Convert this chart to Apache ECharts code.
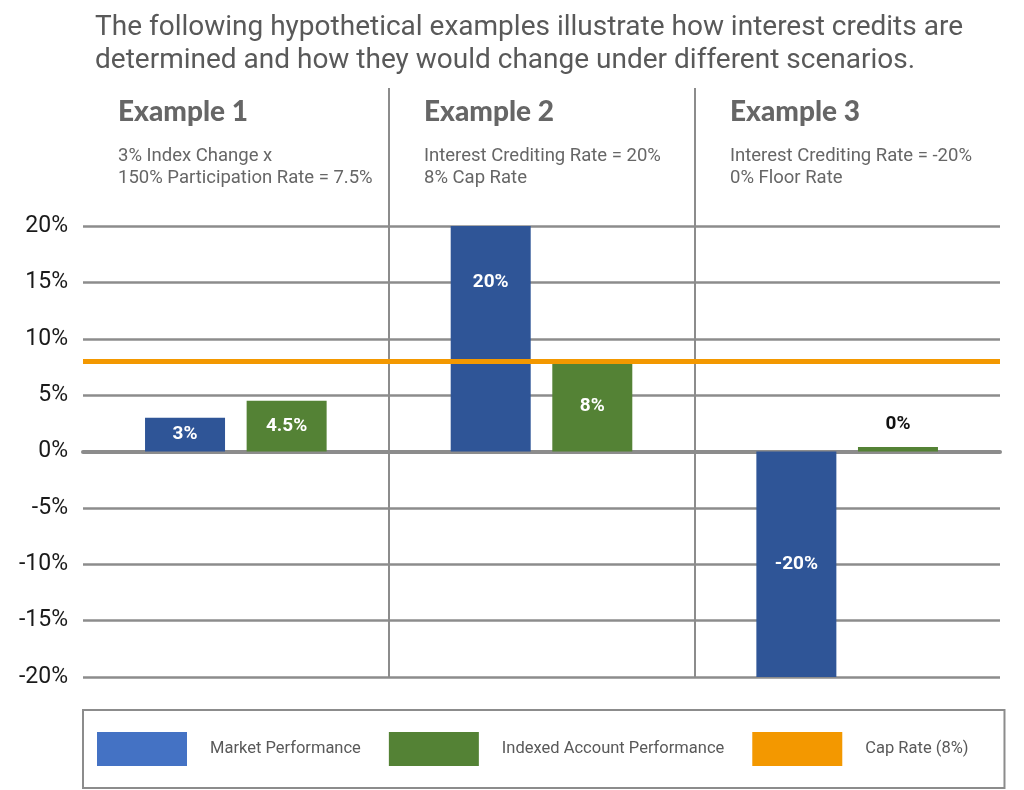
<!DOCTYPE html>
<html>
<head>
<meta charset="utf-8">
<script src="https://cdn.jsdelivr.net/npm/echarts@6/dist/echarts.min.js"></script>
<style>html,body{margin:0;padding:0;background:#fff;}#c{width:1024px;height:790px;}</style>
</head>
<body>
<div id="c"></div>
<script>
var headline = 'The following hypothetical examples illustrate how interest credits are\ndetermined and how they would change under different scenarios.';
var categories = ['Example 1', 'Example 2', 'Example 3'];
var exampleNotes = [
  '3% Index Change x\n150% Participation Rate = 7.5%',
  'Interest Crediting Rate = 20%\n8% Cap Rate',
  'Interest Crediting Rate = -20%\n0% Floor Rate'
];
var marketValues = [3, 20, -20];
var marketLabels = ['3%', '20%', '-20%'];
var indexedValues = [4.5, 8, 0.4];
var indexedLabels = ['4.5%', '8%', '0%'];
var capRate = 8;
var seriesNames = ['Market Performance', 'Indexed Account Performance', 'Cap Rate (8%)'];

var C_BLUE_BAR = '#2F5597', C_BLUE_LEG = '#4472C4', C_GREEN = '#548235', C_ORANGE = '#F39800', C_GRID = '#8c8c8c';

var chart = echarts.init(document.getElementById('c'), null, {renderer: 'canvas'});

var titles = [{
  text: headline, left: 95, top: 11, padding: 0,
  textStyle: {fontFamily: 'Roboto', fontSize: 28, fontWeight: 'normal', color: '#595959', lineHeight: 33}
}];
categories.forEach(function (c, i) {
  titles.push({
    text: c, subtext: exampleNotes[i], left: 118 + i * 306, top: 98, itemGap: 19, padding: 0,
    textStyle: {fontFamily: 'Lato', fontSize: 28, fontWeight: 900, color: '#666666'},
    subtextStyle: {fontFamily: 'Roboto', fontSize: 18.5, color: '#666666', lineHeight: 22}
  });
});

function barData(vals, labels, special) {
  return vals.map(function (v, i) {
    var d = {value: v, labelText: labels[i]};
    if (special && special[i]) d.label = special[i];
    return d;
  });
}

var option = {
  animation: false,
  backgroundColor: '#fff',
  title: titles,
  legend: {
    left: 83, top: 710,
    icon: 'rect', itemWidth: 90, itemHeight: 34, itemGap: 28,
    padding: [22, 36, 22, 14],
    borderColor: C_GRID, borderWidth: 2,
    data: [
      {name: seriesNames[0], itemStyle: {color: C_BLUE_LEG}},
      {name: seriesNames[1], itemStyle: {color: C_GREEN}},
      {name: seriesNames[2], itemStyle: {color: C_ORANGE}}
    ],
    textStyle: {fontFamily: 'Roboto', fontSize: 16.5, color: '#595959', padding: [0, 0, 0, 18]},
    selectedMode: false
  },
  grid: [
    {left: 83, right: 24, top: 226, bottom: 113},
    {left: 83, right: 24, top: 88, bottom: 113}
  ],
  xAxis: [{
    type: 'category', gridIndex: 0, data: categories,
    axisLabel: {show: false}, axisTick: {show: false},
    axisLine: {show: true, onZero: true, lineStyle: {color: C_GRID, width: 4}},
    splitLine: {show: false}
  }, {
    type: 'category', gridIndex: 1, data: categories,
    axisLabel: {show: false}, axisTick: {show: false}, axisLine: {show: false},
    splitLine: {show: true, showMinLine: false, showMaxLine: false, lineStyle: {color: C_GRID, width: 2}}
  }],
  yAxis: [{
    type: 'value', gridIndex: 0, min: -20, max: 20, interval: 5,
    axisLine: {show: false}, axisTick: {show: false},
    axisLabel: {formatter: '{value}%', fontFamily: 'Roboto', fontSize: 23, color: '#1a1a1a', margin: 15},
    splitLine: {show: true, lineStyle: {color: C_GRID, width: 2.5}}
  }, {
    type: 'value', gridIndex: 1, show: false, splitLine: {show: false}
  }],
  series: [{
    name: seriesNames[0], type: 'bar', xAxisIndex: 0, yAxisIndex: 0,
    barWidth: 80, barGap: '27%',
    itemStyle: {color: C_BLUE_BAR},
    label: {show: true, position: 'inside', color: '#fff', fontFamily: 'Roboto', fontWeight: 'bold', fontSize: 19,
      formatter: function (p) { return p.data.labelText; }},
    data: barData(marketValues, marketLabels, [null, {position: 'insideTop', distance: 47}, null]),
    z: 3
  }, {
    name: seriesNames[1], type: 'bar', xAxisIndex: 0, yAxisIndex: 0,
    barWidth: 80, barGap: '27%',
    itemStyle: {color: C_GREEN},
    label: {show: true, position: 'inside', color: '#fff', fontFamily: 'Roboto', fontWeight: 'bold', fontSize: 19,
      formatter: function (p) { return p.data.labelText; }},
    data: barData(indexedValues, indexedLabels, [null, null, {position: 'top', distance: 13, color: '#111'}]),
    z: 3
  }, {
    name: seriesNames[2], type: 'line', xAxisIndex: 0, yAxisIndex: 0,
    data: [],
    itemStyle: {color: C_ORANGE}, lineStyle: {color: C_ORANGE},
    markLine: {
      silent: true, symbol: 'none', animation: false,
      label: {show: false},
      lineStyle: {color: C_ORANGE, width: 5, type: 'solid'},
      data: [{yAxis: capRate}]
    },
    z: 5
  }]
};
chart.setOption(option);
</script>
</body>
</html>
